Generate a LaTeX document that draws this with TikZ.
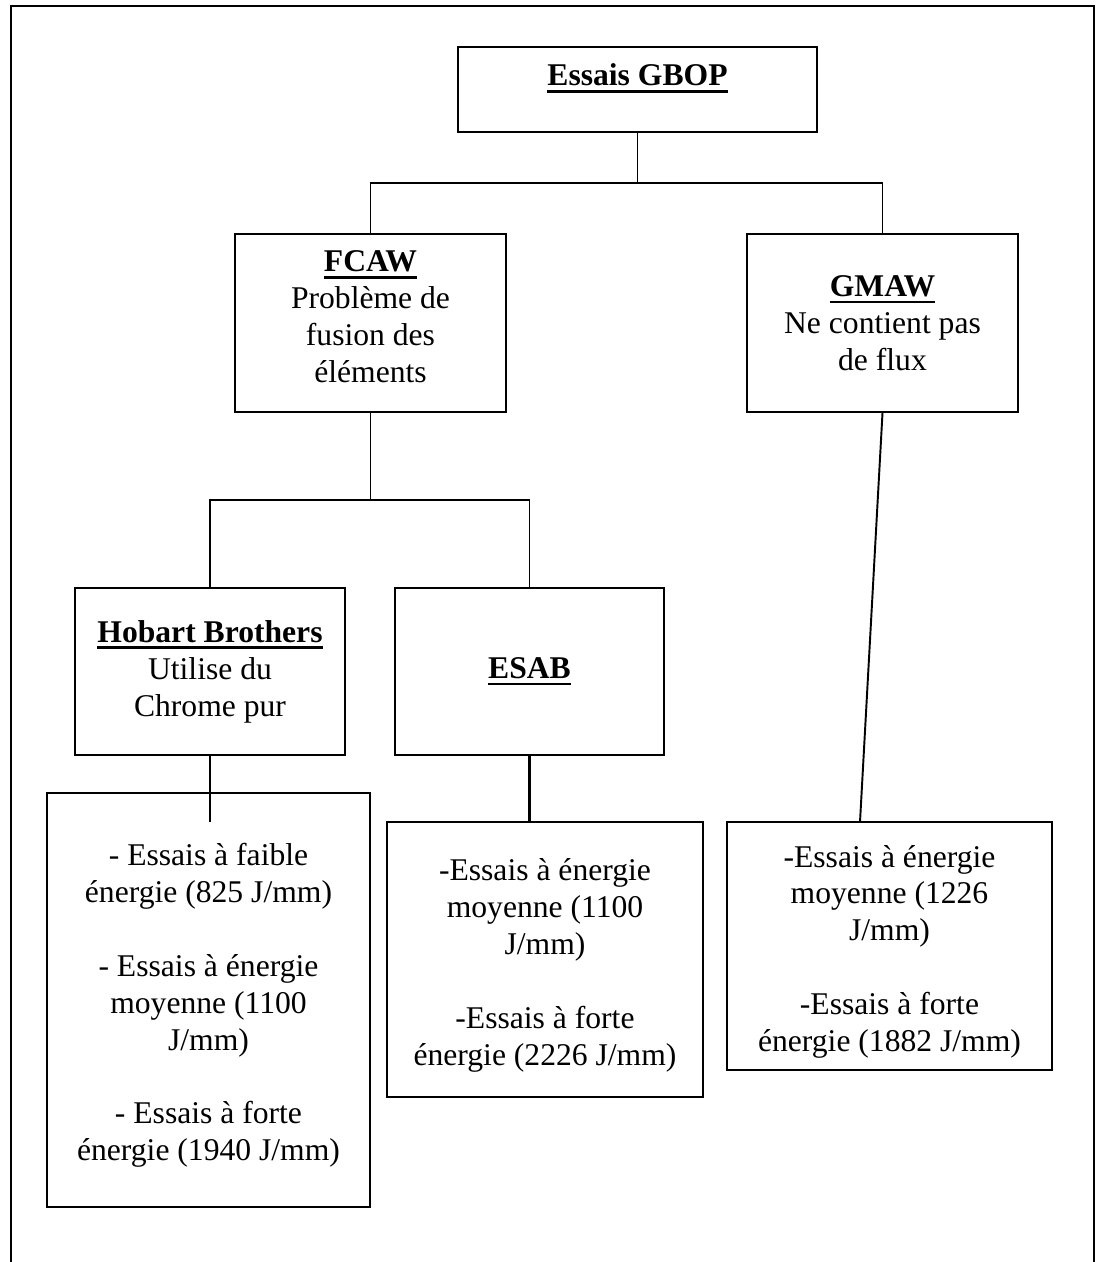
\documentclass[tikz,border=0pt]{standalone}
\usepackage{fontspec}
\setmainfont{Liberation Serif}
\usepackage{tikz}

\newcommand{\titre}[1]{\sbox0{\textbf{#1}}\rlap{\usebox0}\rule[-4pt]{\wd0}{1.6pt}}
\newcommand{\haut}{\rule{0pt}{19pt}}

\tikzset{
        boite/.style={draw, line width=1.1pt, align=center, inner sep=0pt,
                font=\fontsize{18}{21}\selectfont},
        lien/.style={line width=1.1pt},
        lienfort/.style={line width=1.7pt}
}

\begin{document}
\begin{tikzpicture}[x=0.02cm, y=-0.02cm]
        \useasboundingbox (0,0) rectangle (1096,1262);
        %% Frame
        \draw[line width=1.3pt] (11,1262) -- (11,6) -- (1094,6) -- (1094,1262);

        %% Rectangles
        \node[boite, minimum width=7.18cm, minimum height=1.70cm] (gbop) at (637.5,89.5)
                {\titre{Essais GBOP}\rule[-17pt]{0pt}{17pt}};
        \node[boite, minimum width=5.42cm, minimum height=3.56cm] (fcaw) at (370.5,323)
                {\titre{FCAW}\\Problème de\\fusion des\\éléments\\[-14pt]\mbox{}};
        \node[boite, minimum width=5.42cm, minimum height=3.56cm] (gmaw) at (882.5,323)
                {\titre{GMAW}\\Ne contient pas\\de flux};
        \node[boite, minimum width=5.40cm, minimum height=3.34cm] (hobart) at (210,671.5)
                {\titre{Hobart Brothers}\\Utilise du\\Chrome pur};
        \node[boite, minimum width=5.38cm, minimum height=3.34cm] (esab) at (529.5,671.5) {\titre{ESAB}};

        % Results
        \node[boite, minimum width=6.46cm, minimum height=8.28cm] (hobartsub) at (208.5,1000)
                {\haut- Essais à faible\\énergie (825 J/mm)\\[21pt]- Essais à énergie\\moyenne (1100\\J/mm)\\[21pt]- Essais à forte\\énergie (1940 J/mm)};
        \node[boite, minimum width=6.32cm, minimum height=5.50cm] (esabsub) at (545,959.5)
                {\haut-Essais à énergie\\moyenne (1100\\J/mm)\\[21pt]-Essais à forte\\énergie (2226 J/mm)};
        \node[boite, minimum width=6.50cm, minimum height=4.96cm] (gmawsub) at (889.5,946)
                {\haut-Essais à énergie\\moyenne (1226\\J/mm)\\[21pt]-Essais à forte\\énergie (1882 J/mm)};

        % Lines
        \coordinate (split1) at (637.5,183);
        \coordinate (split2) at (370.5,500);
        \coordinate (hobartend) at (210,822);
        \coordinate (gmawend) at (860,822);
        \draw[lien] (gbop.south) -- (split1);
        \draw[lien] (split1) -| (fcaw.north);
        \draw[lien] (split1) -| (gmaw.north);
        \draw[lien] (fcaw.south) -- (split2);
        \draw[lien] (split2) -| (hobart.north);
        \draw[lien] (split2) -| (esab.north);
        \draw[lienfort] (hobart.south) -- (hobartend);
        \draw[lienfort] (esab.south) -- (esab.south |- esabsub.north);
        \draw[lien] (gmaw.south) -- (gmawend);
\end{tikzpicture}
\end{document}
